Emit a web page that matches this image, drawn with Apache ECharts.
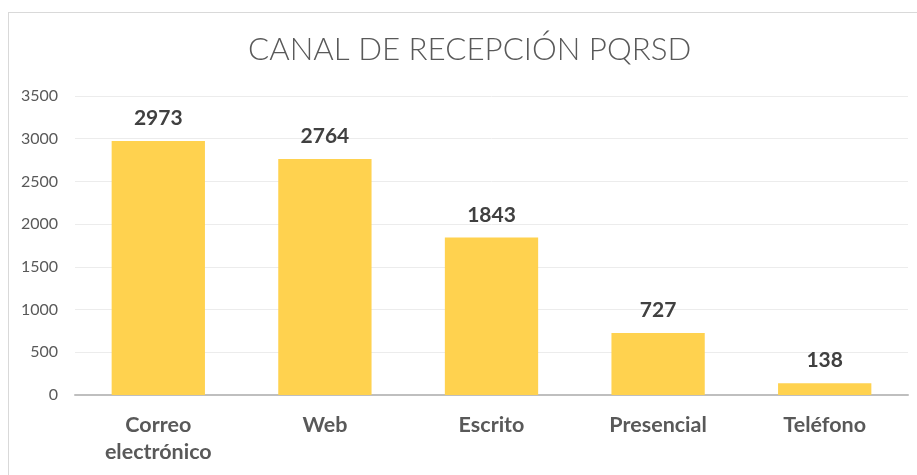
<!DOCTYPE html>
<html>
<head>
<meta charset="utf-8">
<script src="https://cdn.jsdelivr.net/npm/echarts@6/dist/echarts.min.js"></script>
<style>
  html, body { margin: 0; padding: 0; background: #fff; }
  #box {
    position: absolute; left: 8px; top: 12px;
    width: 930px; height: 480px;
    border: 1px solid #d9d9d9; box-sizing: border-box;
  }
  #myChart { position: absolute; left: 0; top: 0; width: 917px; height: 475px; }
</style>
</head>
<body>
<div id="box"></div>
<div id="myChart"></div>
<script>
// datos del gráfico
const categorias = ['Correo\nelectrónico', 'Web', 'Escrito', 'Presencial', 'Teléfono'];
const valores = [2973, 2764, 1843, 727, 138];
const ticksY = [0, 500, 1000, 1500, 2000, 2500, 3000, 3500];

let myChart = echarts.init(document.getElementById('myChart'));
myChart.setOption({
  animation: false,
  title: {
    text: 'CANAL DE RECEPCIÓN PQRSD',
    left: 243,
    top: 29,
    textStyle: {
      fontFamily: 'Lato',
      fontWeight: 300,
      fontSize: 31.3,
      color: '#595959'
    }
  },
  grid: {
    left: 75,
    right: 9,
    top: 96,
    bottom: 80
  },
  xAxis: {
    type: 'category',
    data: categorias,
    axisTick: { show: false },
    axisLine: { lineStyle: { color: '#bfbfbf', width: 2 } },
    axisLabel: {
      margin: 17,
      fontFamily: 'Lato',
      fontWeight: 'bold',
      fontSize: 21.5,
      lineHeight: 27,
      color: '#595959'
    }
  },
  yAxis: {
    type: 'value',
    min: ticksY[0],
    max: ticksY[ticksY.length - 1],
    interval: 500,
    axisLine: { show: false },
    axisTick: { show: false },
    splitLine: { lineStyle: { color: '#ececec', width: 1 } },
    axisLabel: {
      margin: 17,
      fontFamily: 'Lato',
      fontSize: 16,
      color: '#595959',
      formatter: function (v) { return String(v); }
    }
  },
  series: [{
    type: 'bar',
    data: valores,
    barWidth: '56%',
    itemStyle: { color: '#ffd24f' },
    label: {
      show: true,
      position: 'top',
      distance: 12,
      fontFamily: 'Lato',
      fontWeight: 'bold',
      fontSize: 21,
      color: '#404040'
    }
  }]
});
</script>
</body>
</html>
